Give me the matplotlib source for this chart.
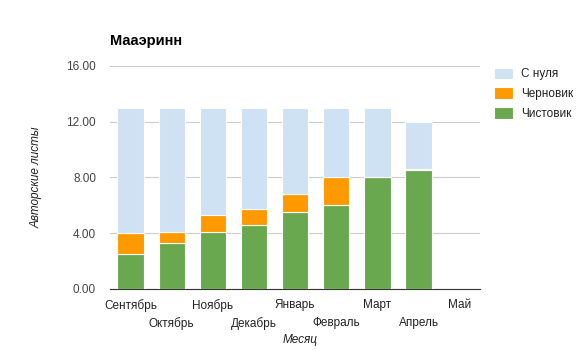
import numpy as np
import matplotlib
matplotlib.use('Agg')
import matplotlib.pyplot as plt

plt.rcParams['font.family'] = ['Liberation Sans', 'DejaVu Sans']

# данные
months = ['Сентябрь', 'Октябрь', 'Ноябрь', 'Декабрь', 'Январь',
          'Февраль', 'Март', 'Апрель', 'Май']
clean = [2.5, 3.3, 4.1, 4.6, 5.5, 6.0, 8.0, 8.5, 0]
draft = [1.5, 0.8, 1.2, 1.1, 1.3, 2.0, 0.05, 0.08, 0]
scratch = [9.0, 8.9, 7.7, 7.3, 6.2, 5.0, 4.95, 3.42, 0]
yticks = [0, 4, 8, 12, 16]

fig = plt.figure(figsize=(5.85, 3.51), dpi=100)
ax = fig.add_axes([0.188, 0.177, 0.633, 0.635])

x = np.arange(len(months))
w = 0.64
clean = np.array(clean)
draft = np.array(draft)
scratch = np.array(scratch)
ax.bar(x, clean, w, color='#6aa84f', edgecolor='white', linewidth=0.8, label='Чистовик', zorder=3)
ax.bar(x, draft, w, bottom=clean, color='#ff9900', edgecolor='white', linewidth=0.8, label='Черновик', zorder=3)
ax.bar(x, scratch, w, bottom=clean + draft, color='#cfe2f3', edgecolor='white', linewidth=0.8, label='С нуля', zorder=3)

ax.set_xlim(-0.5, len(months) - 0.5)
ax.set_ylim(0, 16)
ax.set_yticks(yticks)
ax.set_yticklabels(['%.2f' % v for v in yticks], color='#444444', fontsize=8.5)
ax.grid(axis='y', color='#cccccc', linewidth=0.8, zorder=0)
ax.tick_params(axis='y', length=0, pad=10)
ax.tick_params(axis='x', length=0)
for s in ['top', 'right', 'left']:
    ax.spines[s].set_visible(False)
ax.spines['bottom'].set_color('#333333')
ax.set_xticks(x)
ax.set_xticklabels([])
for i, m in enumerate(months):
    off = 0 if i % 2 == 0 else -13
    ax.annotate(m, (i, 0), xytext=(0, -7 + off), textcoords='offset points',
                ha='center', va='top', fontsize=8.5, color='#222222')

fig.text(0.513, 0.031, 'Месяц', fontsize=8.5, style='italic', color='#222222', ha='center', va='center')
ax.set_ylabel('Авторские листы', fontsize=8.5, style='italic', color='#222222', labelpad=17)
fig.text(0.188, 0.871, 'Мааэринн', fontsize=10.5, fontweight='bold', color='#000000')

h, l = ax.get_legend_handles_labels()
ax.legend(h[::-1], l[::-1], loc='upper left', bbox_to_anchor=(1.008, 1.04), frameon=False,
          fontsize=8.5, handlelength=1.6, handleheight=1.1, labelcolor='#222222',
          borderaxespad=0.5, labelspacing=0.6, handletextpad=0.7)

fig.savefig('out.png', dpi=100)
